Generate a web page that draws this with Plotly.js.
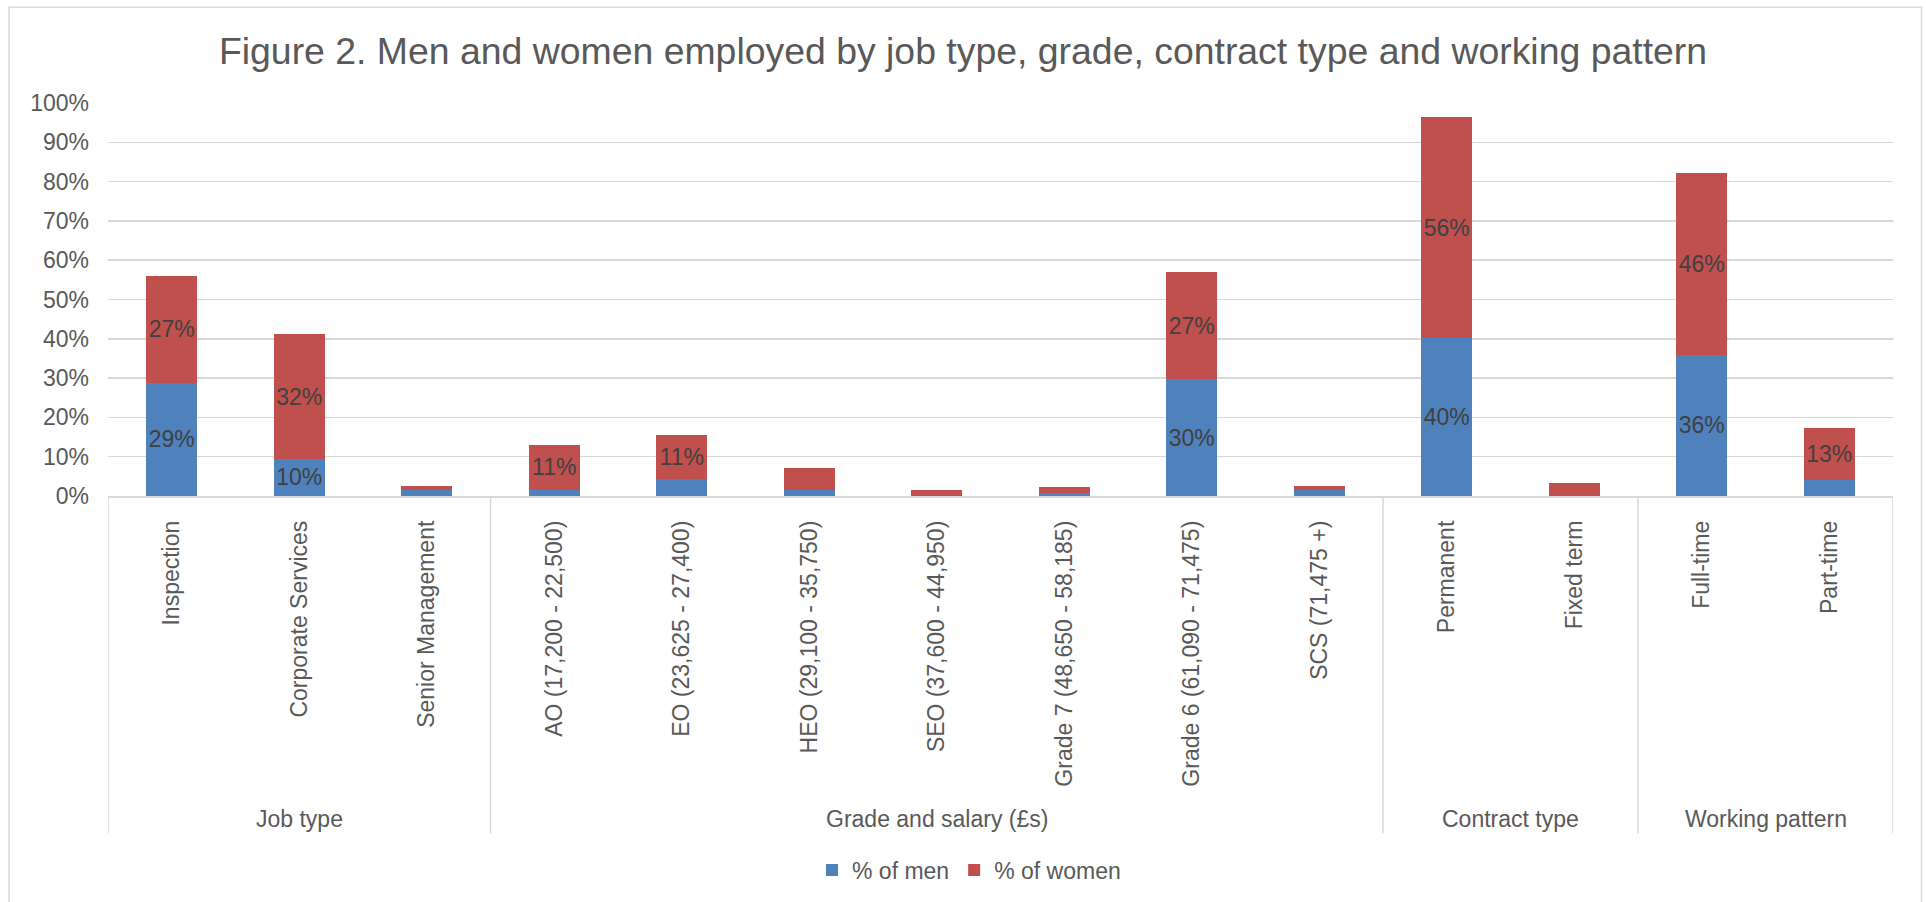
<!DOCTYPE html>
<html>
<head>
<meta charset="utf-8">
<script src="https://cdn.plot.ly/plotly-3.0.1.min.js"></script>
<style>
html,body{margin:0;padding:0;background:#fff;}
#chart{width:1926px;height:902px;}
</style>
</head>
<body>
<div id="chart"></div>
<script>
// ---- data ----
const categories = [
  "Inspection", "Corporate Services", "Senior Management",
  "AO (17,200 - 22,500)", "EO (23,625 - 27,400)", "HEO (29,100 - 35,750)",
  "SEO (37,600 - 44,950)", "Grade 7 (48,650 - 58,185)", "Grade 6 (61,090 - 71,475)",
  "SCS (71,475 +)",
  "Permanent", "Fixed term",
  "Full-time", "Part-time"
];
const groupOf = [
  "Job type", "Job type", "Job type",
  "Grade and salary (£s)", "Grade and salary (£s)", "Grade and salary (£s)",
  "Grade and salary (£s)", "Grade and salary (£s)", "Grade and salary (£s)",
  "Grade and salary (£s)",
  "Contract type", "Contract type",
  "Working pattern", "Working pattern"
];
const menPct   = [28.8, 9.5, 1.5, 1.6, 4.2, 1.6, 0.1, 0.8, 29.7, 1.5, 40.2, 0.0, 36.0, 4.1];
const womenPct = [27.2, 31.6, 1.0, 11.4, 11.4, 5.4, 1.5, 1.6, 27.2, 1.0, 56.2, 3.3, 46.3, 13.3];
const seriesNames = ["% of men", "% of women"];
const labelMin = 9; // values below this are not labelled

// ---- styles ----
const FONT = '"Liberation Sans", Arial, sans-serif';
const GREY = '#595959';
const LINE = '#d9d9d9';
const W = 1926, H = 902;
const M = {l: 108, r: 33, t: 103, b: 405};
const plotH = H - M.t - M.b;
const plotW = W - M.l - M.r;
const py = px => -(px - (H - M.b)) / plotH;   // pixel row -> paper y
const pxX = px => (px - M.l) / plotW;          // pixel column -> paper x

const idx = categories.map((_, i) => i);
const lbl = arr => arr.map(v => v >= labelMin ? Math.round(v) + '%' : '');

function barTrace(vals, name, color) {
  return {
    type: 'bar', x: idx, y: vals.map(v => v / 100), name: name,
    marker: {color: color, line: {width: 0}},
    text: lbl(vals), textposition: 'inside', insidetextanchor: 'middle',
    textangle: 0, constraintext: 'none',
    insidetextfont: {family: FONT, size: 23, color: '#404040'},
    hoverinfo: 'skip'
  };
}

const traces = [
  barTrace(menPct, seriesNames[0], '#4f81bd'),
  barTrace(womenPct, seriesNames[1], '#c0504d')
];

// group dividers and labels
const groups = [];
groupOf.forEach((g, i) => {
  if (!groups.length || groups[groups.length - 1].name !== g) groups.push({name: g, start: i, end: i});
  else groups[groups.length - 1].end = i;
});
const shapes = [];
const annotations = [];
const divBottom = py(835);
groups.forEach((g, k) => {
  if (k === 0) shapes.push({type: 'line', xref: 'x', yref: 'paper', x0: g.start - 0.5, x1: g.start - 0.5, y0: 0, y1: divBottom, line: {color: LINE, width: 1.5}});
  shapes.push({type: 'line', xref: 'x', yref: 'paper', x0: g.end + 0.5, x1: g.end + 0.5, y0: 0, y1: divBottom, line: {color: LINE, width: 1.5}});
  annotations.push({xref: 'x', yref: 'paper', x: (g.start + g.end) / 2, y: py(821), text: g.name, showarrow: false,
    xanchor: 'center', yanchor: 'middle', font: {family: FONT, size: 23, color: GREY}});
});
// outer chart border
shapes.push({type: 'rect', xref: 'paper', yref: 'paper', x0: pxX(9), x1: pxX(1921.5), y0: py(7), y1: py(920),
  line: {color: LINE, width: 1.5}, fillcolor: 'rgba(0,0,0,0)', layer: 'below'});

const layout = {
  width: W, height: H,
  margin: M,
  paper_bgcolor: '#fff', plot_bgcolor: '#fff',
  barmode: 'stack', bargap: 0.6,
  font: {family: FONT, size: 23, color: GREY},
  title: {text: 'Figure 2. Men and women employed by job type, grade, contract type and working pattern',
    font: {family: FONT, size: 37.4, color: GREY}, x: 0.5, xref: 'container', xanchor: 'center',
    y: 1 - 51 / H, yref: 'container', yanchor: 'middle'},
  xaxis: {
    type: 'linear', range: [-0.5, categories.length - 0.5],
    tickmode: 'array', tickvals: idx, ticktext: categories, tickangle: -90,
    ticks: '', ticklabelstandoff: 14,
    tickfont: {family: FONT, size: 23, color: GREY},
    showgrid: false, zeroline: false, showline: true, linecolor: LINE, linewidth: 1.5,
    fixedrange: true
  },
  yaxis: {
    range: [0, 1], dtick: 0.1, tickformat: '.0%',
    showgrid: true, gridcolor: LINE, gridwidth: 1.5, zeroline: false, showline: false,
    ticks: '', ticklabelstandoff: 18,
    tickfont: {family: FONT, size: 23, color: GREY},
    fixedrange: true
  },
  showlegend: true,
  legend: {orientation: 'h', x: pxX(969), xanchor: 'center', y: py(870), yanchor: 'middle',
    font: {family: FONT, size: 23, color: GREY}, traceorder: 'normal', itemclick: false, itemdoubleclick: false},
  shapes: shapes,
  annotations: annotations
};

Plotly.newPlot('chart', traces, layout, {displayModeBar: false, staticPlot: true});
</script>
</body>
</html>
